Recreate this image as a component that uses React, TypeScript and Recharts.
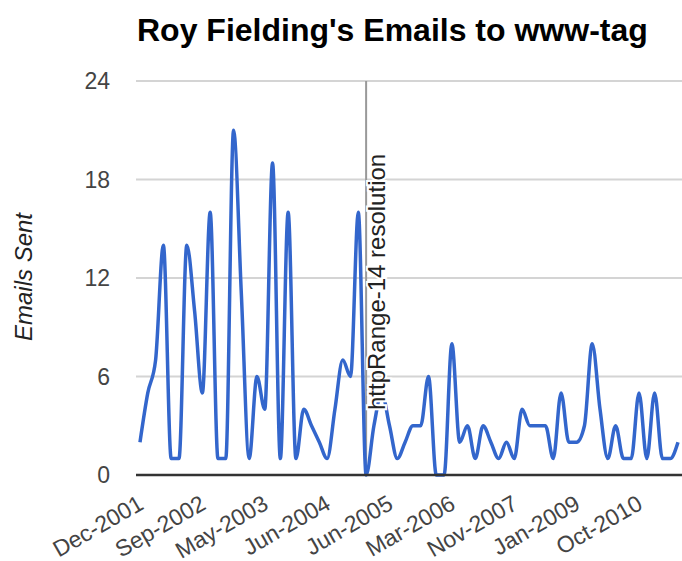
import { LineChart, Line, XAxis, YAxis, CartesianGrid, ReferenceLine } from 'recharts'

// months in the source sheet (only months with a row; ticks show every 8th)
const MONTHS = [
  'Dec-2001', 'Jan-2002', 'Feb-2002', 'Mar-2002', 'Apr-2002', 'May-2002', 'Jun-2002', 'Aug-2002', 'Sep-2002', 'Oct-2002',
  'Nov-2002', 'Dec-2002', 'Jan-2003', 'Feb-2003', 'Mar-2003', 'Apr-2003', 'May-2003', 'Jun-2003', 'Jul-2003', 'Sep-2003',
  'Oct-2003', 'Dec-2003', 'Feb-2004', 'Apr-2004', 'Jun-2004', 'Jul-2004', 'Aug-2004', 'Oct-2004', 'Dec-2004', 'Feb-2005',
  'Apr-2005', 'May-2005', 'Jun-2005', 'Jul-2005', 'Aug-2005', 'Sep-2005', 'Oct-2005', 'Nov-2005', 'Dec-2005', 'Feb-2006',
  'Mar-2006', 'May-2006', 'Jul-2006', 'Oct-2006', 'Jan-2007', 'Mar-2007', 'Jun-2007', 'Aug-2007', 'Nov-2007', 'Jan-2008',
  'Mar-2008', 'May-2008', 'Jun-2008', 'Aug-2008', 'Oct-2008', 'Nov-2008', 'Jan-2009', 'Mar-2009', 'May-2009', 'Aug-2009',
  'Nov-2009', 'Feb-2010', 'May-2010', 'Jul-2010', 'Oct-2010', 'Dec-2010', 'Feb-2011', 'Apr-2011', 'Jun-2011', 'Aug-2011',
]

const EMAILS = [
  2, 5, 7, 14, 1, 1, 14, 10, 5, 16,
  1, 1, 21, 11, 1, 6, 4, 19, 1, 16,
  1, 4, 3, 2, 1, 4, 7, 6, 16, 0,
  3, 5, 3, 1, 2, 3, 3, 6, 0, 0,
  8, 2, 3, 1, 3, 2, 1, 2, 1, 4,
  3, 3, 3, 1, 5, 2, 2, 3, 8, 4,
  1, 3, 1, 1, 5, 1, 5, 1, 1, 2,
]

const Y_TICKS = [0, 6, 12, 18, 24]

const ANNOTATION_MONTH = 'Feb-2005'
const ANNOTATION_TEXT = 'httpRange-14 resolution'

const FONT = 'Arial, "Liberation Sans", sans-serif'
const BLUE = '#3366cc'

const data = MONTHS.map((month, i) => ({ month, emails: EMAILS[i] }))

function MonthTick({ x, y, payload }: any) {
  const tx = x + 5
  const ty = y + 33
  return (
    <text
      x={tx}
      y={ty}
      textAnchor="end"
      transform={`rotate(-30, ${tx}, ${ty})`}
      fill="#444"
      fontSize={23}
      fontFamily={FONT}
    >
      {payload.value}
    </text>
  )
}

function AnnotationLabel({ viewBox }: any) {
  const tx = viewBox.x + 19
  const ty = viewBox.y + viewBox.height - 65
  return (
    <text
      x={tx}
      y={ty}
      transform={`rotate(-90, ${tx}, ${ty})`}
      fill="#222"
      stroke="#fff"
      strokeWidth={4}
      paintOrder="stroke"
      fontSize={24}
      fontFamily={FONT}
    >
      {ANNOTATION_TEXT}
    </text>
  )
}

export default function App() {
  return (
    <div style={{ position: 'absolute', left: 0, top: 0, width: 682, height: 561, background: '#fff' }}>
      <LineChart width={682} height={561} data={data} margin={{ top: 81, right: 0, bottom: 0, left: 0 }}>
        <CartesianGrid vertical={false} stroke="#d4d4d4" strokeWidth={2} />
        <XAxis
          dataKey="month"
          interval={7}
          height={86}
          padding={{ left: 4, right: 4 }}
          axisLine={{ stroke: '#333', strokeWidth: 2.5 }}
          tickLine={false}
          tickSize={0}
          tickMargin={0}
          tick={<MonthTick />}
        />
        <YAxis
          domain={[0, 24]}
          ticks={Y_TICKS}
          width={136}
          axisLine={false}
          tickLine={false}
          tickSize={0}
          tickMargin={26}
          tick={{ fill: '#444', fontSize: 23, fontFamily: FONT }}
        />
        <ReferenceLine x={ANNOTATION_MONTH} stroke="#999" strokeWidth={2} />
        <Line
          type="monotone"
          dataKey="emails"
          stroke={BLUE}
          strokeWidth={3.5}
          dot={false}
          activeDot={false}
          isAnimationActive={false}
        />
        <ReferenceLine x={ANNOTATION_MONTH} stroke="none" label={<AnnotationLabel />} />
      </LineChart>
      <svg width={682} height={561} style={{ position: 'absolute', left: 0, top: 0, pointerEvents: 'none' }}>
        <text x={137} y={41} fontSize={32} fontWeight="bold" fontFamily={FONT} fill="#000">
          Roy Fielding's Emails to www-tag
        </text>
        <text
          x={32}
          y={277}
          transform="rotate(-90, 32, 277)"
          textAnchor="middle"
          fontSize={24}
          fontStyle="italic"
          fontFamily={FONT}
          fill="#222"
        >
          Emails Sent
        </text>
      </svg>
    </div>
  )
}
